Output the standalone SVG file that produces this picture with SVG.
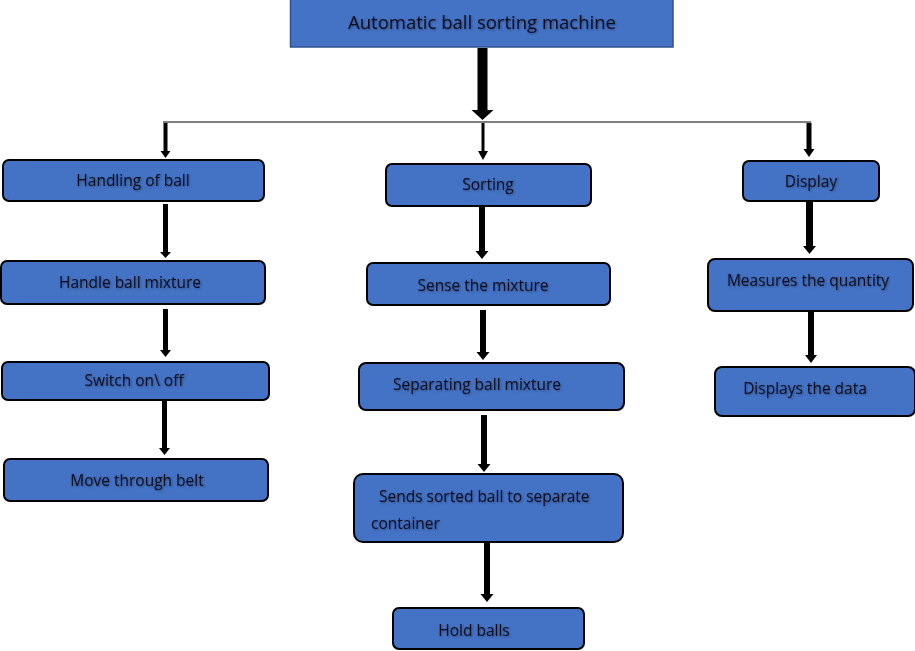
<svg xmlns="http://www.w3.org/2000/svg" width="915" height="651" viewBox="0 0 915 651">
<defs>
<filter id="ts" x="-5%" y="-20%" width="110%" height="140%">
<feDropShadow dx="1" dy="1" stdDeviation="0.8" flood-color="#000" flood-opacity="0.35"/>
</filter>
<style>
.box{fill:#4472C4;stroke:#000;stroke-width:2}
.top{fill:#4472C4;stroke:#2F528F;stroke-width:1.5}
.lbl{font-family:"Open Sans","Liberation Sans",sans-serif;font-size:15.5px;fill:#0c0c1e;text-anchor:middle;filter:url(#ts)}
.ttl{font-size:18.5px}
.arr{fill:#000}
.hline{stroke:#555;stroke-width:1.5;fill:none}
</style>
</defs>
<rect width="915" height="651" fill="#fff"/>
<g id="connectors">
<line class="hline" x1="163" y1="122" x2="811" y2="122"/>
<path class="arr" d="M477.5,48 H487.5 V110 H493.5 L482.5,120 L471.5,110 H477.5 Z"/>
<path class="arr" d="M481.5,123 H484.5 V151 H488 L483,160 L478,151 H481.5 Z"/>
<path class="arr" d="M163.5,123 H167.5 V151 H170.5 L165.5,158 L160.5,151 H163.5 Z"/>
<path class="arr" d="M806.5,123 H811.5 V149 H814.5 L809,157 L803.5,149 H806.5 Z"/>
<path class="arr" d="M163,204 H168 V252 H171 L165.5,258 L160,252 H163 Z"/>
<path class="arr" d="M163,309 H168 V350 H171 L165.5,357 L160,350 H163 Z"/>
<path class="arr" d="M162,401 H167 V448 H170 L164.5,455 L159,448 H162 Z"/>
<path class="arr" d="M479,207 H485 V251 H488.5 L482,259 L475.5,251 H479 Z"/>
<path class="arr" d="M480,310 H486 V352 H489.5 L483,360 L476.5,352 H480 Z"/>
<path class="arr" d="M481,415 H487 V464 H490.5 L484,472 L477.5,464 H481 Z"/>
<path class="arr" d="M484,542 H490 V594 H493.5 L487,602 L480.5,594 H484 Z"/>
<path class="arr" d="M806,197 H813 V246 H816 L809.5,254 L803,246 H806 Z"/>
<path class="arr" d="M808,311 H814 V355 H817 L811,363 L805,355 H808 Z"/>
</g>
<g id="n-top">
<rect class="top" x="290.5" y="-1" width="382.5" height="48"/>
<text class="lbl ttl" x="482" y="29">Automatic ball sorting machine</text>
</g>
<g id="n-handling">
<rect class="box" x="3" y="160" width="261" height="41" rx="6"/>
<text class="lbl" x="133" y="186">Handling of ball</text>
</g>
<g id="n-handle-mixture">
<rect class="box" x="1" y="261" width="264" height="43" rx="6"/>
<text class="lbl" x="130" y="288">Handle ball mixture</text>
</g>
<g id="n-switch">
<rect class="box" x="2" y="362" width="267" height="38" rx="6"/>
<text class="lbl" x="134" y="386">Switch on\ off</text>
</g>
<g id="n-belt">
<rect class="box" x="4" y="459" width="264" height="42" rx="6"/>
<text class="lbl" x="137" y="486">Move through belt</text>
</g>
<g id="n-sorting">
<rect class="box" x="386" y="164" width="205" height="42" rx="6"/>
<text class="lbl" x="488" y="190">Sorting</text>
</g>
<g id="n-sense">
<rect class="box" x="367" y="263" width="243" height="42" rx="6"/>
<text class="lbl" x="483" y="291">Sense the mixture</text>
</g>
<g id="n-separating">
<rect class="box" x="359" y="363" width="265" height="47" rx="7"/>
<text class="lbl" x="477" y="390">Separating ball mixture</text>
</g>
<g id="n-sends">
<rect class="box" x="354" y="474" width="269" height="68" rx="9"/>
<text class="lbl" x="379" y="502" style="text-anchor:start">Sends sorted ball to separate</text>
<text class="lbl" x="371" y="529" style="text-anchor:start">container</text>
</g>
<g id="n-hold">
<rect class="box" x="393" y="608" width="191" height="41" rx="6"/>
<text class="lbl" x="474" y="636">Hold balls</text>
</g>
<g id="n-display">
<rect class="box" x="743" y="161" width="136" height="40" rx="6"/>
<text class="lbl" x="811" y="187">Display</text>
</g>
<g id="n-measures">
<rect class="box" x="708" y="259" width="205" height="52" rx="7"/>
<text class="lbl" x="808" y="286">Measures the quantity</text>
</g>
<g id="n-displays-data">
<rect class="box" x="715" y="367" width="200" height="49" rx="7"/>
<text class="lbl" x="805" y="394">Displays the data</text>
</g>
</svg>
